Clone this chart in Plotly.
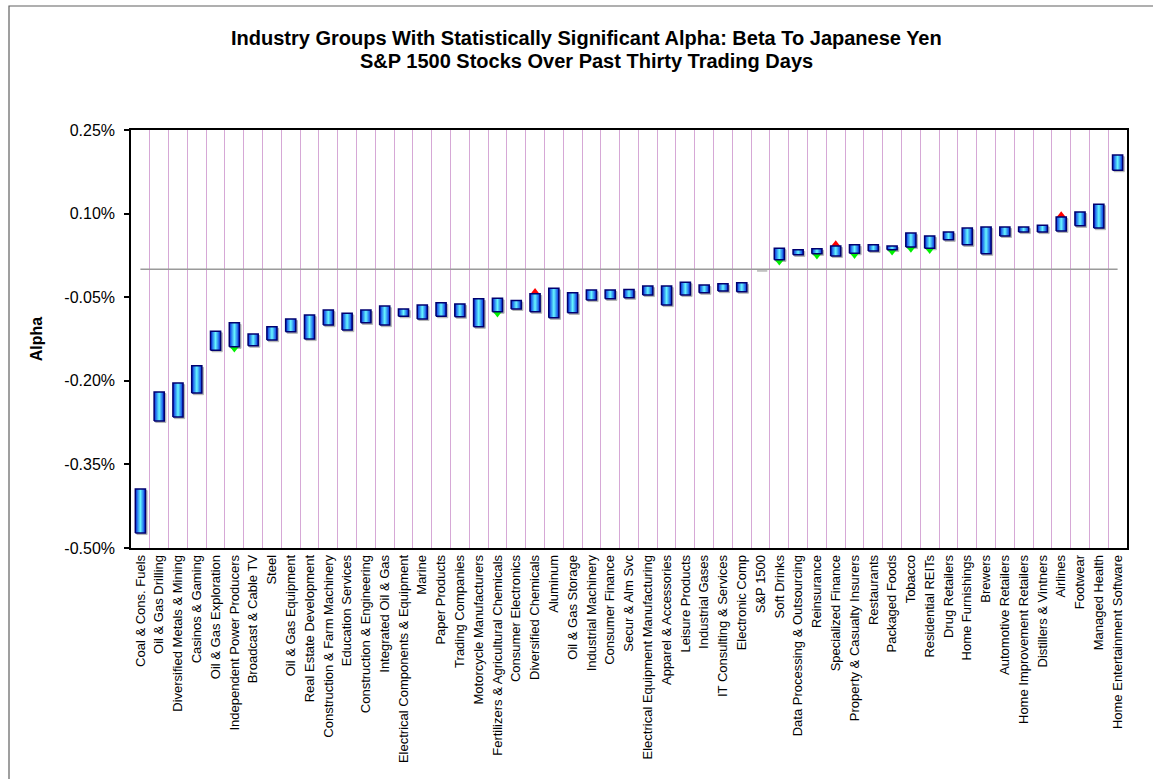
import plotly.graph_objects as go

categories = [
    "Coal & Cons. Fuels", "Oil & Gas Drilling", "Diversified Metals & Mining", "Casinos & Gaming",
    "Oil & Gas Exploration", "Independent Power Producers", "Broadcast & Cable TV", "Steel",
    "Oil & Gas Equipment", "Real Estate Development", "Construction & Farm Machinery",
    "Education Services", "Construction & Engineering", "Integrated Oil & Gas",
    "Electrical Components & Equipment", "Marine", "Paper Products", "Trading Companies",
    "Motorcycle Manufacturers", "Fertilizers & Agricultural Chemicals", "Consumer Electronics",
    "Diversified Chemicals", "Aluminum", "Oil & Gas Storage", "Industrial Machinery",
    "Consumer Finance", "Secur & Alm Svc", "Electrical Equipment Manufacturing",
    "Apparel & Accessories", "Leisure Products", "Industrial Gases", "IT Consulting & Services",
    "Electronic Comp", "S&P 1500", "Soft Drinks", "Data Processing & Outsourcing", "Reinsurance",
    "Specialized Finance", "Property & Casualty Insurers", "Restaurants", "Packaged Foods",
    "Tobacco", "Residential REITs", "Drug Retailers", "Home Furnishings", "Brewers",
    "Automotive Retailers", "Home Improvement Retailers", "Distillers & Vintners", "Airlines",
    "Footwear", "Managed Health", "Home Entertainment Software",
]

# alpha range (percent)
alpha_high = [
    -0.394, -0.220, -0.204, -0.173, -0.111, -0.096, -0.116, -0.103, -0.089, -0.082,
    -0.073, -0.079, -0.073, -0.066, -0.071, -0.064, -0.060, -0.062, -0.053, -0.052,
    -0.056, -0.044, -0.034, -0.042, -0.037, -0.037, -0.036, -0.030, -0.030, -0.023,
    -0.028, -0.026, -0.024, 0.000, 0.038, 0.035, 0.037, 0.042, 0.044, 0.044,
    0.042, 0.065, 0.060, 0.067, 0.074, 0.076, 0.076, 0.076, 0.079, 0.094,
    0.103, 0.117, 0.205,
]
alpha_low = [
    -0.473, -0.272, -0.265, -0.222, -0.145, -0.139, -0.137, -0.127, -0.112, -0.125,
    -0.100, -0.109, -0.096, -0.100, -0.084, -0.089, -0.084, -0.085, -0.103, -0.076,
    -0.071, -0.076, -0.087, -0.078, -0.055, -0.053, -0.051, -0.046, -0.064, -0.046,
    -0.042, -0.039, -0.040, 0.000, 0.017, 0.026, 0.028, 0.024, 0.029, 0.033,
    0.035, 0.040, 0.038, 0.053, 0.044, 0.028, 0.060, 0.067, 0.067, 0.069,
    0.078, 0.074, 0.178,
]
# direction signal: 1 = up (red), -1 = down (green), 0 = none
signal = [
    0, 0, 0, 0, 0, -1, 0, 0, 0, 0,
    0, 0, 0, 0, 0, 0, 0, 0, 0, -1,
    0, 1, 0, 0, 0, 0, 0, 0, 0, 0,
    0, 0, 0, 0, -1, 0, -1, 1, -1, 0,
    -1, -1, -1, 0, 0, 0, 0, 0, 0, 1,
    0, 0, 0,
]
benchmark_alpha = 0.0

y_ticks = [-0.50, -0.35, -0.20, -0.05, 0.10, 0.25]
y_tick_labels = ["-0.50%", "-0.35%", "-0.20%", "-0.05%", "0.10%", "0.25%"]

title_lines = [
    "Industry Groups With Statistically Significant Alpha: Beta To Japanese Yen",
    "S&P 1500 Stocks Over Past Thirty Trading Days",
]

# layout geometry (pixels)
W, H = 1153, 779
ML, MR, MT, MB = 131, 26, 130, 231
PW, PH = W - ML - MR, H - MT - MB
n = len(categories)
YMIN, YMAX = -0.50, 0.25
px_x = n / PW                      # data units per pixel (x)
px_y = (YMAX - YMIN) / PH          # data units per pixel (y)
half_w = 0.27


def py(ypix):
    return (H - MB - ypix) / PH


def pxp(xpix):
    return (xpix - ML) / PW


FONT = "Liberation Sans, Arial, sans-serif"

fig = go.Figure()

# benchmark line
fig.add_trace(go.Scatter(
    x=[0, n - 1], y=[benchmark_alpha, benchmark_alpha], mode="lines",
    line=dict(color="#9a9a9a", width=1.5), hoverinfo="skip", showlegend=False))

# shadows
sx, sy = [], []
dx, dy = 1.6 * px_x, 1.6 * px_y
for i, (h, l) in enumerate(zip(alpha_high, alpha_low)):
    sx += [i - half_w + dx, i + half_w + dx, i + half_w + dx, i - half_w + dx, i - half_w + dx, None]
    sy += [l - dy, l - dy, h - dy, h - dy, l - dy, None]
fig.add_trace(go.Scatter(
    x=sx, y=sy, mode="lines", fill="toself", fillcolor="#b4b4b4",
    line=dict(color="#b4b4b4", width=1), hoverinfo="skip", showlegend=False))

# signal markers (behind bars)
ux = [i for i, s in enumerate(signal) if s == 1]
uy = [alpha_high[i] + 1.0 * px_y for i in ux]
dxs = [i for i, s in enumerate(signal) if s == -1]
dys = [alpha_low[i] - 1.0 * px_y for i in dxs]
fig.add_trace(go.Scatter(
    x=ux, y=uy, mode="markers",
    marker=dict(symbol="triangle-up", size=9.5, color="#ff0000", line=dict(width=0)),
    hoverinfo="skip", showlegend=False))
fig.add_trace(go.Scatter(
    x=dxs, y=dys, mode="markers",
    marker=dict(symbol="triangle-down", size=9.5, color="#00f000", line=dict(width=0)),
    hoverinfo="skip", showlegend=False))

# gradient bars
for i, (h, l) in enumerate(zip(alpha_high, alpha_low)):
    if h == l:
        continue
    fig.add_trace(go.Scatter(
        x=[i - half_w, i + half_w, i + half_w, i - half_w, i - half_w],
        y=[l, l, h, h, l],
        mode="lines", fill="toself",
        fillgradient=dict(type="horizontal",
                          colorscale=[[0, "#0020e0"], [0.5, "#66f8ff"], [1, "#0020e0"]]),
        line=dict(color="#000070", width=1.5),
        hoverinfo="skip", showlegend=False))

annotations = [
    dict(text=title_lines[0], xref="paper", yref="paper", x=pxp(586), y=py(38),
         xanchor="center", yanchor="middle", showarrow=False,
         font=dict(family=FONT, size=20, color="black", weight="bold")),
    dict(text=title_lines[1], xref="paper", yref="paper", x=pxp(586), y=py(61),
         xanchor="center", yanchor="middle", showarrow=False,
         font=dict(family=FONT, size=20, color="black", weight="bold")),
]

fig.update_layout(
    width=W, height=H,
    margin=dict(l=ML, r=MR, t=MT, b=MB),
    paper_bgcolor="white", plot_bgcolor="white",
    font=dict(family=FONT, color="black"),
    annotations=annotations,
    xaxis=dict(
        range=[-0.5, n - 0.5], tickmode="array", tickvals=list(range(n)), ticktext=categories,
        tickangle=-90, tickfont=dict(size=13, family=FONT), ticks="",
        showgrid=False, zeroline=False,
        showline=True, linecolor="black", linewidth=1.5, mirror=True,
        minor=dict(tickvals=[i + 0.5 for i in range(n - 1)], showgrid=True,
                   gridcolor="#d6a8d6", gridwidth=1, ticks=""),
        fixedrange=True),
    yaxis=dict(
        range=[YMIN, YMAX], tickmode="array", tickvals=y_ticks, ticktext=y_tick_labels,
        tickfont=dict(size=16, family=FONT), ticks="outside", ticklen=5,
        tickcolor="black", tickwidth=1.5, ticklabelstandoff=6,
        showgrid=False, zeroline=False,
        showline=True, linecolor="black", linewidth=1.5, mirror=True,
        title=dict(text="Alpha", font=dict(size=16, family=FONT, weight="bold"), standoff=18),
        fixedrange=True),
    shapes=[dict(type="rect", xref="paper", yref="paper",
                 x0=pxp(9), x1=pxp(W + 20),
                 y0=py(H + 20), y1=py(6),
                 line=dict(color="#606060", width=1.2), fillcolor="rgba(0,0,0,0)",
                 layer="below")],
)

fig.write_html("out.html")
